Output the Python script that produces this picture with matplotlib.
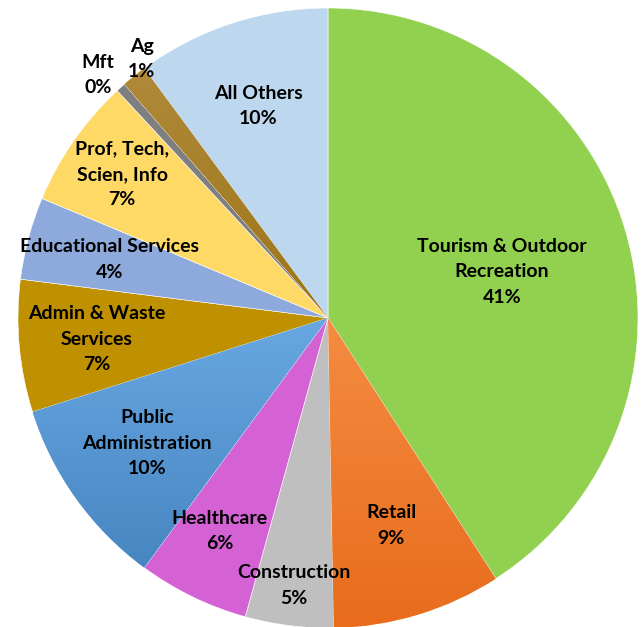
import matplotlib.pyplot as plt
import numpy as np
from matplotlib.colors import LinearSegmentedColormap

labels = ["Tourism & Outdoor\nRecreation", "Retail", "Construction", "Healthcare",
          "Public\nAdministration", "Admin & Waste\nServices", "Educational Services",
          "Prof, Tech,\nScien, Info", "Mft", "Ag", "All Others"]
pct_text = ["41%", "9%", "5%", "6%", "10%", "7%", "4%", "7%", "0%", "1%", "10%"]
shares = [40.9, 8.8, 4.6, 5.8, 10.0, 6.9, 4.3, 6.8, 0.5, 1.3, 10.1]
colors = ["#92D050", "#EF7B2A", "#BFBFBF", "#D462D4", "#5A9BD8", "#BF9000",
          "#8EA9DB", "#FFD966", "#7F7F7F", "#A87C27", "#BDD7EE"]
# a few slices have a top-to-bottom shading in the original
gradients = {1: ("#F48C42", "#E86C1C"), 4: ("#67A7E2", "#4886C2"), 9: ("#B08A3A", "#9C7418")}
# label placement: fraction of radius, angle shift in degrees
label_r = [0.58, 0.70, 0.87, 0.77, 0.71, 0.75, 0.73, 0.81, 1.08, 1.03, 0.72]
label_dang = [-1.5, 0, 0, -1, -1, 0, 0, 0, 1.5, -3, 0]

fig = plt.figure(figsize=(6.41, 6.27), dpi=100)
ax = fig.add_axes([0, 0, 1, 1])

wedges, _ = ax.pie(shares, colors=colors, startangle=90, counterclock=False,
                   radius=1.0, wedgeprops=dict(edgecolor="white", linewidth=0.4))

for i, (c1, c2) in gradients.items():
    w = wedges[i]
    bb = w.get_path().get_extents()
    cmap = LinearSegmentedColormap.from_list("g%d" % i, [c2, c1])
    grad = np.linspace(0, 1, 256).reshape(-1, 1)
    im = ax.imshow(grad, cmap=cmap, origin="lower", aspect="auto",
                   extent=[bb.x0, bb.x1, bb.y0, bb.y1], zorder=w.get_zorder() + 0.1)
    im.set_clip_path(w)

for w, lab, p, r, da in zip(wedges, labels, pct_text, label_r, label_dang):
    mid = np.deg2rad((w.theta1 + w.theta2) / 2 + da)
    ax.text(r * np.cos(mid), r * np.sin(mid), lab + "\n" + p, ha="center", va="center",
            fontsize=14, fontweight="bold", family="Lato", linespacing=1.6,
            color="black", zorder=5)

ax.set_xlim(-328 / 310, (641 - 328) / 310)
ax.set_ylim(-(627 - 318) / 310, 318 / 310)
ax.set_aspect("auto")
ax.axis("off")

fig.savefig("out.png", dpi=100)
